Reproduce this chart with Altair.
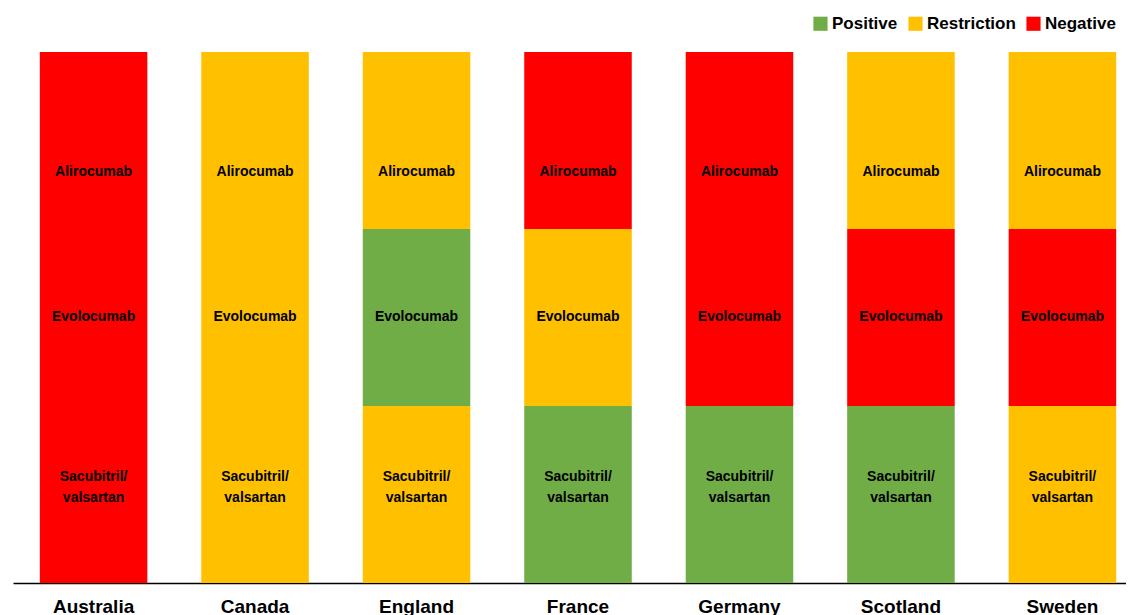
import altair as alt
import pandas as pd

countries = ["Australia", "Canada", "England", "France", "Germany", "Scotland", "Sweden"]
drugs = ["Sacubitril/\nvalsartan", "Evolocumab", "Alirocumab"]  # bottom -> top
# decision per country for [Sacubitril/valsartan, Evolocumab, Alirocumab]
decisions = {
    "Australia": ["Negative", "Negative", "Negative"],
    "Canada": ["Restriction", "Restriction", "Restriction"],
    "England": ["Restriction", "Positive", "Restriction"],
    "France": ["Positive", "Restriction", "Negative"],
    "Germany": ["Positive", "Negative", "Negative"],
    "Scotland": ["Positive", "Negative", "Restriction"],
    "Sweden": ["Restriction", "Negative", "Restriction"],
}
categories = ["Positive", "Restriction", "Negative"]
colors = ["#70AD47", "#FFC000", "#FF0000"]

rows = []
for c in countries:
    for i, d in enumerate(drugs):
        rows.append({"country": c, "drug": d, "order": i, "decision": decisions[c][i],
                     "y0": i, "y1": i + 1, "ymid": i + 0.5})
df = pd.DataFrame(rows)

xscale = alt.Scale(domain=countries, range=[0, 1130], paddingInner=0.334, paddingOuter=0.166)
yscale = alt.Scale(domain=[0, 3], nice=False)

bars = alt.Chart(df).mark_bar(strokeWidth=0).encode(
    x=alt.X("country:N", scale=xscale, sort=countries,
            axis=alt.Axis(title=None, labelAngle=0, ticks=False, grid=False, domainColor="#000000",
                          domainWidth=1.5, labelFont="Liberation Sans", labelFontWeight="bold",
                          labelFontSize=19, labelColor="#000000", labelPadding=14)),
    y=alt.Y("y0:Q", scale=yscale, axis=None),
    y2="y1:Q",
    color=alt.Color("decision:N", scale=alt.Scale(domain=categories, range=colors),
                    legend=alt.Legend(title=None, orient="none", legendX=799, legendY=-37,
                                      direction="horizontal", symbolType="square",
                                      symbolSize=200, symbolStrokeWidth=0, symbolOpacity=1,
                                      labelFont="Liberation Sans", labelFontWeight="bold",
                                      labelFontSize=17, labelColor="#000000", labelOffset=3,
                                      columnPadding=9, padding=0)),
)

label_dy = {"Sacubitril/\nvalsartan": -18, "Evolocumab": -0.5, "Alirocumab": 31}
texts = []
for d in drugs:
    texts.append(
        alt.Chart(df[df["drug"] == d]).mark_text(
            font="Liberation Sans", fontWeight="bold", fontSize=14, color="#000000",
            baseline="middle", align="center", lineBreak="\n", lineHeight=21, dy=label_dy[d]
        ).encode(
            x=alt.X("country:N", scale=xscale, sort=countries),
            y=alt.Y("ymid:Q", scale=yscale),
            text="drug:N",
        )
    )

chart = alt.layer(bars, *texts).properties(
    width=1113, height=531,
    padding={"left": 5, "top": 44, "right": 0, "bottom": 32},
    autosize=alt.AutoSizeParams(type="none"),
).configure(background="#ffffff").configure_view(stroke=None)

chart.save("out.html", embed_options={"renderer": "svg", "actions": False})
